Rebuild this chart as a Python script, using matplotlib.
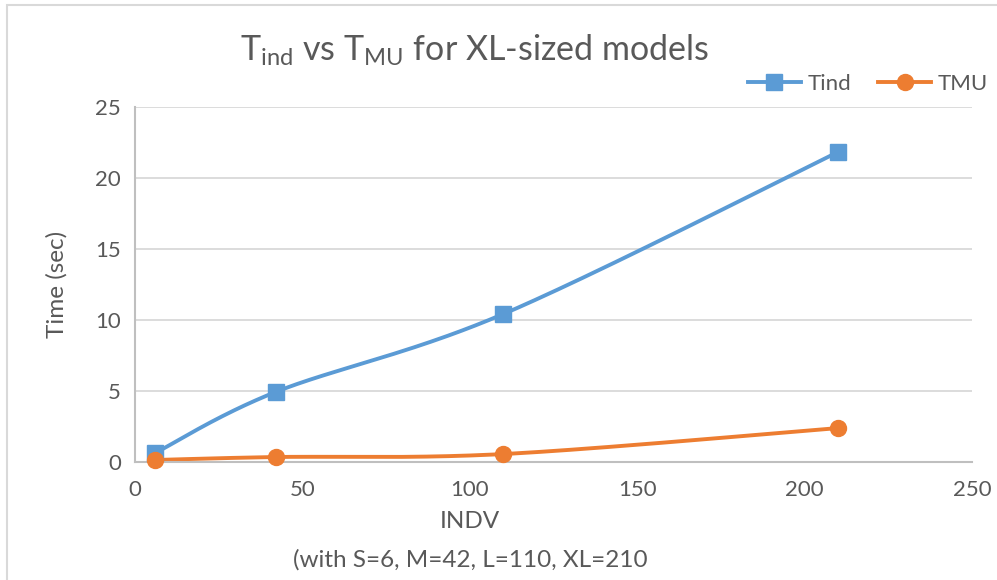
import numpy as np
import matplotlib
matplotlib.use("Agg")
import matplotlib.pyplot as plt
from matplotlib.patches import Rectangle
from matplotlib.lines import Line2D

# Data
indv = [6, 42, 110, 210]
t_ind = [0.63, 4.93, 10.42, 21.83]
t_mu = [0.14, 0.35, 0.56, 2.39]
x_ticks = [0, 50, 100, 150, 200, 250]
y_ticks = [0, 5, 10, 15, 20, 25]

BLUE = "#5B9BD5"
ORANGE = "#ED7D31"
TEXT = "#595959"
GRID = "#D9D9D9"

plt.rcParams["font.family"] = ["Lato", "DejaVu Sans"]
plt.rcParams["mathtext.default"] = "regular"


def smooth(xs, ys, n=60):
    """Cubic Bezier smoothing through the points (Catmull-Rom style, like spreadsheet smoothed lines)."""
    xs = np.asarray(xs, float)
    ys = np.asarray(ys, float)
    px = np.concatenate([[xs[0]], xs, [xs[-1]]])
    py = np.concatenate([[ys[0]], ys, [ys[-1]]])
    out_x, out_y = [], []
    t = np.linspace(0, 1, n)
    for i in range(1, len(px) - 2):
        p0 = np.array([px[i], py[i]])
        p3 = np.array([px[i + 1], py[i + 1]])
        p1 = p0 + (np.array([px[i + 1], py[i + 1]]) - np.array([px[i - 1], py[i - 1]])) / 6
        p2 = p3 - (np.array([px[i + 2], py[i + 2]]) - np.array([px[i], py[i]])) / 6
        b = ((1 - t) ** 3)[:, None] * p0 + (3 * (1 - t) ** 2 * t)[:, None] * p1 \
            + (3 * (1 - t) * t ** 2)[:, None] * p2 + (t ** 3)[:, None] * p3
        out_x.extend(b[:, 0])
        out_y.extend(b[:, 1])
    return np.array(out_x), np.array(out_y)


fig = plt.figure(figsize=(9.97, 5.80), dpi=100)
fig.patch.set_facecolor("white")

# chart frame
fig.patches.append(Rectangle((7 / 997, -0.1), 1.2, 1.1 - 5 / 580,
                             transform=fig.transFigure, fill=False,
                             edgecolor=GRID, linewidth=1.5))

ax = fig.add_axes([135 / 997, (580 - 462) / 580, (972 - 135) / 997, (462 - 107) / 580])
ax.set_xlim(0, 250)
ax.set_ylim(0, 25)
ax.set_xticks(x_ticks)
ax.set_yticks(y_ticks)
ax.grid(axis="y", color=GRID, linewidth=1.3)
ax.set_axisbelow(True)
for s in ["top", "right"]:
    ax.spines[s].set_visible(False)
for s in ["left", "bottom"]:
    ax.spines[s].set_color("#BFBFBF")
    ax.spines[s].set_linewidth(1.5)
ax.tick_params(length=0, labelsize=16, labelcolor=TEXT, pad=10)
ax.tick_params(axis="x", pad=13)

sx, sy = smooth(indv, t_ind)
ax.plot(sx, sy, color=BLUE, linewidth=2.8, solid_capstyle="round", clip_on=False)
ax.plot(indv, t_ind, linestyle="none", marker="s", markersize=11,
        color=BLUE, clip_on=False, zorder=3)
sx, sy = smooth(indv, t_mu)
ax.plot(sx, sy, color=ORANGE, linewidth=2.8, solid_capstyle="round", clip_on=False)
ax.plot(indv, t_mu, linestyle="none", marker="o", markersize=11.5,
        color=ORANGE, clip_on=False, zorder=4)

ax.set_ylabel("Time (sec)", fontsize=17.5, color=TEXT, labelpad=20)

fig.text(470 / 997, 1 - 522 / 580, "INDV", ha="center", va="center",
         fontsize=17.5, color=TEXT)
fig.text(470 / 997, 1 - 560 / 580, "(with S=6, M=42, L=110, XL=210", ha="center",
         va="center", fontsize=17.5, color=TEXT)

fig.text(475 / 997, 1 - 50 / 580, r"T$_{ind}$ vs T$_{MU}$ for XL-sized models",
         ha="center", va="center", fontsize=24.5, color=TEXT)

# legend
handles = [
    Line2D([], [], color=BLUE, linewidth=2.8, marker="s", markersize=11),
    Line2D([], [], color=ORANGE, linewidth=2.8, marker="o", markersize=11.5),
]
fig.legend(handles, ["Tind", "TMU"], loc="center", bbox_to_anchor=(868 / 997, 1 - 84 / 580),
           ncol=2, frameon=False, fontsize=16, labelcolor=TEXT, handlelength=2.4,
           handletextpad=0.3, columnspacing=1.2)

fig.savefig("out.png", dpi=100)
